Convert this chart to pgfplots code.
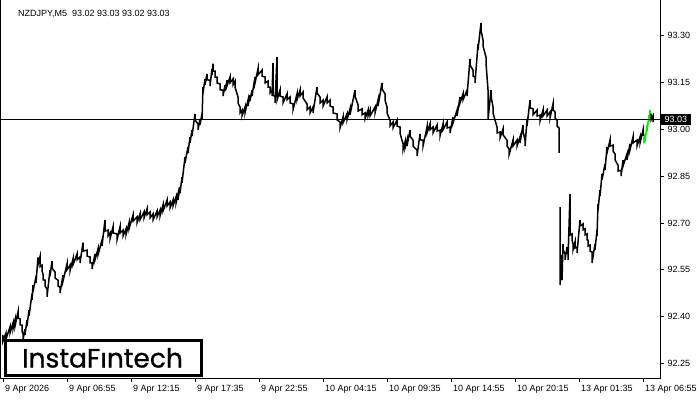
\documentclass[border=0pt]{standalone}
\usepackage{pgfplots}
\pgfplotsset{compat=1.18}
\usepackage{fontspec}
\setmainfont{Liberation Sans}
\newfontfamily\logofont{Poppins}[FakeBold=0.8]
\definecolor{lastgreen}{RGB}{0,240,0}
\begin{document}
\begin{tikzpicture}[x=1pt,y=1pt]
\useasboundingbox (0,0) rectangle (700,400);
\begin{axis}[
  at={(0.5pt,22pt)}, anchor=south west, scale only axis,
  width=659.5pt, height=379pt,
  xmin=0.5, xmax=660, ymin=92.2039, ymax=93.4167,
  axis line style={line width=0.9pt},
  xtick={3,67,131,195,259,323,387,451,515,579,643},
  xticklabels={9 Apr 2026,9 Apr 06:55,9 Apr 12:15,9 Apr 17:35,9 Apr 22:55,10 Apr 04:15,10 Apr 09:35,10 Apr 14:55,10 Apr 20:15,13 Apr 01:35,13 Apr 06:55},
  ytick={92.25,92.40,92.55,92.70,92.85,93.00,93.15,93.30},
  xtick pos=bottom, ytick pos=right,
  tick align=outside, major tick length=4pt,
  tick style={black, line width=0.9pt},
  ticklabel style={font=\fontsize{9}{10}\selectfont},
  xticklabel style={anchor=north west, xshift=-1.5pt},
  yticklabel style={anchor=west},
  /pgf/number format/.cd, fixed, fixed zerofill, precision=2, assume math mode=true,
]
\addplot[black, line width=1.5pt, mark=none] coordinates {
(3,92.342)(3,92.322)(6,92.348)(6,92.329)(10,92.367)(10,92.348)(13,92.380)(13,92.361)
(15,92.389)(15,92.370)(18,92.415)(18,92.396)(20,92.393)(20,92.374)(22,92.373)(22,92.354)
(23,92.345)(23,92.326)(25,92.361)(25,92.342)(27,92.389)(27,92.370)(29,92.421)(29,92.402)
(32,92.473)(32,92.454)(33,92.501)(33,92.482)(36,92.527)(36,92.508)(38,92.590)(38,92.566)
(40,92.592)(40,92.560)(42,92.565)(42,92.546)(43,92.537)(43,92.518)(45,92.517)(45,92.498)
(47,92.489)(47,92.464)(50,92.549)(50,92.530)(52,92.578)(52,92.556)(55,92.543)(55,92.524)
(58,92.517)(58,92.498)(60,92.495)(60,92.476)(63,92.533)(63,92.514)(67,92.569)(67,92.550)
(70,92.565)(70,92.546)(73,92.585)(73,92.566)(77,92.601)(77,92.582)(80,92.591)(80,92.572)
(83,92.637)(83,92.610)(87,92.613)(87,92.594)(90,92.591)(90,92.572)(92,92.572)(92,92.553)
(95,92.601)(95,92.582)(98,92.617)(98,92.598)(102,92.645)(102,92.626)(105,92.710)(105,92.674)
(108,92.677)(108,92.658)(110,92.668)(110,92.649)(113,92.687)(113,92.668)(117,92.665)(117,92.646)
(120,92.687)(120,92.668)(123,92.677)(123,92.658)(126,92.681)(126,92.662)(129,92.700)(129,92.681)
(133,92.725)(133,92.706)(137,92.719)(137,92.700)(140,92.729)(140,92.710)(144,92.735)(144,92.716)
(147,92.745)(147,92.726)(150,92.735)(150,92.716)(153,92.729)(153,92.710)(157,92.738)(157,92.719)
(160,92.741)(160,92.722)(163,92.757)(163,92.738)(167,92.773)(167,92.754)(170,92.767)(170,92.748)
(173,92.773)(173,92.754)(176,92.783)(176,92.764)(178,92.793)(178,92.774)(180,92.815)(180,92.796)
(182,92.847)(182,92.828)(185,92.911)(185,92.892)(188,92.943)(188,92.924)(190,92.975)(190,92.956)
(192,92.997)(192,92.978)(195,93.049)(195,93.030)(198,93.017)(198,92.998)(200,93.033)(200,93.014)
(202,93.049)(202,93.030)(203,93.135)(203,93.116)(205,93.161)(205,93.142)(207,93.177)(207,93.158)
(210,93.157)(210,93.138)(212,93.193)(212,93.174)(213,93.210)(213,93.186)(215,93.186)(215,93.167)
(217,93.167)(217,93.148)(220,93.145)(220,93.126)(223,93.125)(223,93.106)(225,93.141)(225,93.122)
(227,93.157)(227,93.138)(230,93.167)(230,93.148)(233,93.161)(233,93.142)(235,93.154)(235,93.135)
(238,93.103)(238,93.084)(240,93.071)(240,93.052)(242,93.061)(242,93.042)(245,93.071)(245,93.052)
(248,93.093)(248,93.074)(250,93.109)(250,93.090)(252,93.125)(252,93.106)(255,93.167)(255,93.148)
(258,93.193)(258,93.174)(262,93.189)(262,93.170)(265,93.167)(265,93.148)(268,93.154)(268,93.135)
(270,93.135)(270,93.116)(272,93.125)(272,93.106)(273,93.212)(273,93.110)(275,93.103)(275,93.084)
(277,93.231)(277,93.093)(280,93.125)(280,93.106)(283,93.103)(283,93.084)(287,93.113)(287,93.094)
(290,93.103)(290,93.084)(293,93.081)(293,93.062)(297,93.113)(297,93.094)(300,93.125)(300,93.106)
(303,93.119)(303,93.100)(307,93.081)(307,93.062)(310,93.071)(310,93.052)(313,93.071)(313,93.052)
(317,93.135)(317,93.116)(320,93.103)(320,93.084)(323,93.093)(323,93.074)(327,93.103)(327,93.084)
(330,93.093)(330,93.074)(333,93.071)(333,93.052)(337,93.049)(337,93.030)(340,93.023)(340,93.004)
(343,93.039)(343,93.020)(347,93.049)(347,93.030)(350,93.065)(350,93.046)(355,93.125)(355,93.106)
(358,93.078)(358,93.058)(362,93.065)(362,93.046)(365,93.052)(365,93.033)(368,93.061)(368,93.042)
(370,93.061)(370,93.042)(375,93.071)(375,93.052)(378,93.093)(378,93.074)(382,93.148)(382,93.129)
(385,93.113)(385,93.094)(387,93.071)(387,93.052)(390,93.029)(390,93.010)(393,93.023)(393,93.004)
(397,93.029)(397,93.010)(400,93.007)(400,92.988)(403,92.953)(403,92.934)(405,92.959)(405,92.940)
(407,92.965)(407,92.946)(410,92.997)(410,92.978)(413,92.965)(413,92.946)(417,92.933)(417,92.914)
(420,92.985)(420,92.966)(423,92.965)(423,92.946)(427,93.007)(427,92.988)(430,93.017)(430,92.998)
(433,93.007)(433,92.988)(437,93.013)(437,92.994)(440,92.997)(440,92.978)(443,93.017)(443,92.998)
(447,93.023)(447,93.004)(450,93.007)(450,92.988)(453,93.039)(453,93.020)(457,93.061)(457,93.042)
(460,93.103)(460,93.084)(463,93.113)(463,93.094)(467,93.125)(467,93.106)(470,93.225)(470,93.206)
(473,93.189)(473,93.170)(475,93.167)(475,93.148)(478,93.273)(478,93.254)(481,93.340)(481,93.318)
(483,93.285)(483,93.266)(486,93.231)(486,93.212)(488,93.126)(488,93.030)(491,93.125)(491,93.106)
(493,93.071)(493,93.052)(497,93.007)(497,92.988)(500,92.991)(500,92.972)(503,93.001)(503,92.982)
(507,92.965)(507,92.946)(509,92.937)(509,92.918)(513,92.965)(513,92.946)(517,92.965)(517,92.946)
(520,92.975)(520,92.956)(523,93.013)(523,92.994)(525,92.965)(525,92.946)(527,93.029)(527,93.010)
(530,93.093)(530,93.068)(533,93.065)(533,93.046)(537,93.061)(537,93.042)(540,93.045)(540,93.026)
(543,93.061)(543,93.042)(547,93.061)(547,93.042)(550,93.055)(550,93.036)(553,93.081)(553,93.062)
(555,93.055)(555,93.036)(557,93.029)(557,93.010)(559,93.004)(559,92.924)
};
\addplot[black, line width=1.5pt, mark=none] coordinates {
(560,92.751)(560,92.501)(562,92.597)(562,92.517)(563,92.633)(563,92.614)(565,92.601)(565,92.582)
(567,92.623)(567,92.604)(568,92.601)(568,92.582)(570,92.793)(570,92.661)(572,92.665)(572,92.646)
(573,92.633)(573,92.614)(575,92.639)(575,92.620)(577,92.623)(577,92.604)(580,92.709)(580,92.690)
(583,92.697)(583,92.678)(585,92.681)(585,92.662)(587,92.665)(587,92.646)(588,92.645)(588,92.626)
(590,92.629)(590,92.610)(592,92.607)(592,92.572)(595,92.633)(595,92.614)(597,92.677)(597,92.658)
(598,92.761)(598,92.742)(600,92.805)(600,92.786)(602,92.857)(602,92.838)(605,92.889)(605,92.870)
(607,92.943)(607,92.924)(610,92.965)(610,92.946)(613,92.949)(613,92.930)(615,92.921)(615,92.902)
(618,92.885)(618,92.866)(621,92.869)(621,92.850)(623,92.901)(623,92.882)(627,92.921)(627,92.902)
(630,92.953)(630,92.934)(633,92.975)(633,92.956)(637,92.965)(637,92.946)(640,92.975)(640,92.956)
(643,92.997)(643,92.978)
};
\addplot[lastgreen, line width=1.6pt, mark=none] coordinates {
(644,92.975)(644,92.956)(645,92.985)(645,92.962)(647,93.013)(647,92.994)(649,93.045)(649,93.026)(650,93.062)(650,93.042)
};
\addplot[black, line width=1.5pt, mark=none] coordinates {
(651,93.050)(651,93.030)(653,93.043)(653,93.023)
};
\addplot[black, line width=0.8pt, mark=none] coordinates {(0.5,93.033) (660,93.033)};
\end{axis}
\node[anchor=base west, font=\fontsize{9}{10}\selectfont, inner sep=0pt] at (18,383.5) {NZDJPY,M5\ \ 93.02 93.03 93.02 93.03};
\node[anchor=west, fill=black, text=white, font=\fontsize{9}{10}\selectfont, inner xsep=3.5pt, inner ysep=1.5pt, minimum height=11pt] at (661,281) {93.03};
\node[draw=black, line width=2.6pt, fill=white, anchor=south west, minimum width=196pt, minimum height=35pt, inner sep=0pt] at (4.3,23.3) {};
\node[anchor=base, font=\logofont\fontsize{26.5}{26.5}\selectfont, inner sep=0pt] at (102.5,32.5) {InstaF\i ntech};
\end{tikzpicture}
\end{document}
